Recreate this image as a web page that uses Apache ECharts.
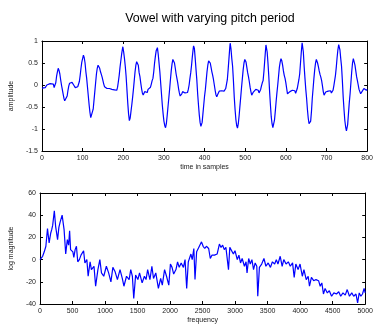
<!DOCTYPE html>
<html>
<head>
<meta charset="utf-8">
<script src="https://cdn.jsdelivr.net/npm/echarts@6/dist/echarts.min.js"></script>
<style>
  html, body { margin: 0; padding: 0; background: #fff; }
  #chart { width: 376px; height: 327px; }
</style>
</head>
<body>
<div id="chart"></div>
<script>
// Time-domain vowel waveform: sample index and amplitude
const sampleIdx = [0,4,8,12,16,20,24,28,30,32,34,36,38,40,42,44,46,48,50,52,54,56,58,60,62,64,66,68,70,72,74,76,78,80,82,84,86,88,90,92,94,96,98,100,102,104,106,108,110,112,114,116,118,120,122,124,126,128,130,132,134,136,138,140,142,144,146,148,150,152,154,156,158,160,163,166,169,172,175,178,181,184,186,188,190,192,194,196,198,199,201,203,205,207,209,211,213,215,217,219,221,223,225,227,229,231,233,235,237,239,241,243,245,247,249,251,253,255,257,259,261,263,265,267,269,271,273,275,277,279,281,283,284,286,288,290,292,294,296,298,300,302,304,306,308,310,312,314,316,318,320,322,324,326,328,330,332,334,336,338,340,342,344,346,348,350,352,354,356,358,360,362,364,366,368,370,372,373,375,377,379,381,383,385,387,389,391,392,394,396,398,400,402,404,406,408,410,412,414,416,418,420,422,424,426,428,430,432,434,436,438,440,442,444,446,448,450,452,454,456,458,460,462,463,465,467,469,471,473,475,477,479,481,483,485,487,489,491,493,495,497,499,500,502,504,506,508,510,512,514,516,518,520,522,524,526,528,530,532,534,536,538,540,542,544,546,548,550,551,552,554,556,558,560,562,564,566,568,570,572,574,576,578,580,582,584,586,588,590,592,594,596,598,600,602,604,606,608,610,612,614,616,618,620,622,624,626,628,630,632,634,636,638,640,641,643,645,647,649,651,653,655,657,659,661,663,665,667,669,671,673,675,676,678,680,682,684,686,688,690,692,694,696,698,700,702,704,706,708,710,712,714,716,718,720,722,724,726,728,730,731,733,735,737,739,741,743,745,747,749,750,752,754,756,758,760,762,764,766,768,770,772,774,776,778,780,782,784,786,788,790,792,794,796,798,800];
const amplitude = [-0.07,-0.05,-0.06,0.0,0.02,0.03,0.01,0.02,-0.06,0.0,0.05,0.2,0.3,0.38,0.33,0.25,0.12,0.0,-0.1,-0.2,-0.3,-0.36,-0.33,-0.37,-0.25,-0.12,-0.02,0.04,0.07,0.08,0.06,0.03,0.0,-0.04,-0.06,-0.05,-0.07,-0.04,0.0,0.08,0.22,0.38,0.52,0.6,0.68,0.62,0.5,0.3,0.15,-0.05,-0.25,-0.45,-0.62,-0.74,-0.78,-0.72,-0.55,-0.35,-0.15,0.05,0.25,0.38,0.45,0.43,0.38,0.3,0.24,0.18,0.1,0.02,-0.04,-0.08,-0.06,-0.08,-0.1,-0.08,-0.11,-0.1,-0.12,-0.11,-0.15,-0.12,-0.05,0.08,0.22,0.4,0.55,0.7,0.82,0.87,0.75,0.6,0.42,0.2,-0.1,-0.4,-0.65,-0.81,-0.75,-0.6,-0.45,-0.28,-0.1,0.1,0.3,0.45,0.53,0.55,0.45,0.28,0.19,0.05,-0.08,-0.18,-0.23,-0.2,-0.15,-0.18,-0.12,-0.17,-0.1,-0.14,-0.12,-0.05,0.02,0.1,0.15,0.3,0.5,0.65,0.78,0.82,0.85,0.7,0.5,0.3,0.05,-0.2,-0.45,-0.65,-0.82,-0.92,-0.97,-0.88,-0.7,-0.5,-0.3,-0.1,0.12,0.32,0.48,0.58,0.6,0.5,0.38,0.25,0.15,0.05,-0.08,-0.18,-0.25,-0.27,-0.2,-0.15,-0.12,-0.14,-0.18,-0.15,-0.2,-0.17,-0.1,0.0,0.15,0.28,0.45,0.65,0.82,0.89,0.83,0.6,0.35,0.11,-0.2,-0.45,-0.68,-0.85,-0.94,-0.95,-0.85,-0.65,-0.45,-0.25,-0.1,0.1,0.3,0.45,0.55,0.58,0.5,0.4,0.3,0.22,0.12,0.0,-0.12,-0.22,-0.27,-0.22,-0.18,-0.14,-0.12,-0.1,-0.13,-0.11,-0.15,-0.14,-0.16,-0.08,0.02,0.12,0.35,0.6,0.85,0.95,0.82,0.6,0.42,0.1,-0.27,-0.55,-0.78,-0.92,-0.98,-0.88,-0.7,-0.48,-0.27,-0.05,0.15,0.35,0.5,0.58,0.6,0.52,0.4,0.28,0.19,0.08,-0.05,-0.15,-0.23,-0.2,-0.16,-0.12,-0.15,-0.1,-0.12,-0.14,-0.12,-0.18,-0.19,-0.1,-0.02,0.05,0.1,0.3,0.55,0.8,0.91,0.93,0.75,0.5,0.2,-0.15,-0.45,-0.72,-0.88,-0.97,-0.95,-0.8,-0.6,-0.38,-0.18,0.0,0.2,0.4,0.52,0.6,0.55,0.45,0.32,0.22,0.15,0.05,-0.08,-0.2,-0.23,-0.18,-0.15,-0.12,-0.14,-0.12,-0.14,-0.15,-0.13,-0.19,-0.17,-0.08,0.02,0.12,0.25,0.5,0.75,0.96,0.98,0.75,0.42,0.15,-0.1,-0.3,-0.55,-0.75,-0.88,-0.92,-0.82,-0.6,-0.3,-0.08,0.15,0.35,0.5,0.58,0.6,0.5,0.42,0.32,0.24,0.18,0.1,-0.02,-0.15,-0.23,-0.2,-0.16,-0.15,-0.12,-0.14,-0.11,-0.15,-0.13,-0.18,-0.19,-0.12,-0.02,0.1,0.22,0.4,0.62,0.8,0.92,0.95,0.8,0.6,0.42,0.1,-0.27,-0.55,-0.8,-0.95,-1.04,-1.05,-0.9,-0.65,-0.4,-0.2,0.05,0.3,0.5,0.6,0.58,0.45,0.32,0.19,0.1,0.0,-0.1,-0.15,-0.2,-0.18,-0.14,-0.12,-0.08,-0.1,-0.06,-0.12,-0.1];

// Log-magnitude spectrum: frequency (Hz) and level (dB)
const freqHz = [0,40,65,90,115,140,165,180,195,220,240,270,290,310,340,370,395,420,440,455,470,505,520,540,560,580,605,630,670,690,720,740,770,790,830,855,890,920,945,980,1020,1055,1090,1120,1155,1190,1230,1265,1290,1330,1370,1395,1420,1441,1470,1505,1530,1570,1605,1630,1655,1690,1720,1745,1780,1820,1855,1880,1915,1945,1980,2005,2030,2055,2090,2115,2140,2170,2205,2230,2255,2280,2320,2340,2365,2383,2408,2433,2458,2483,2508,2533,2558,2593,2618,2643,2683,2723,2758,2783,2808,2833,2858,2883,2898,2918,2948,2973,2998,3033,3058,3083,3108,3143,3168,3183,3208,3233,3258,3283,3308,3333,3348,3373,3408,3443,3473,3508,3543,3573,3608,3633,3658,3693,3723,3748,3783,3818,3848,3883,3908,3933,3968,3998,4033,4058,4093,4123,4143,4173,4208,4243,4283,4308,4333,4358,4383,4418,4448,4483,4518,4558,4593,4623,4658,4693,4723,4758,4793,4823,4858,4883,4908,4933,4958,4983,5000];
const logMag = [0,3,7,12,28,15,24,27,31,44,30,18,29,34,40,27,5,18,13,26,9,7,2,9,12,-2,0,4,8,-3,0,-15,-2,-9,-6,-24,-9,0,-12,-15,-6,-12,-20,-7,-11,-18,-9,-17,-24,-15,-18,-9,-15,-35,-14,-18,-12,-21,-15,-18,-9,-18,-6,-17,-12,-26,-17,-23,-9,-15,-23,-4,-7,-13,-9,-2,-7,-3,-7,0,-26,-2,5,0,10,-18,7,10,9,16,12,10,12,10,1,4,4,5,14,11,13,9,11,10,-9,11,10,5,8,0,4,-3,1,-6,-2,-12,1,-4,0,-9,-3,-6,-33,-7,-4,1,-6,-3,-7,-2,-4,0,-4,3,-6,0,-4,-2,-6,-3,-16,-4,-9,-4,-15,-9,-18,-15,-24,-16,-19,-18,-19,-24,-21,-31,-26,-30,-28,-33,-30,-31,-29,-33,-30,-32,-27,-33,-30,-33,-31,-39,-30,-33,-31,-26,-30];

// Axis tick values
const timeTicks = [0, 100, 200, 300, 400, 500, 600, 700, 800];
const ampTicks = [-1.5, -1, -0.5, 0, 0.5, 1];
const freqTicks = [0, 500, 1000, 1500, 2000, 2500, 3000, 3500, 4000, 4500, 5000];
const magTicks = [-40, -20, 0, 20, 40, 60];

const FONT = 'Liberation Sans, Arial, sans-serif';
const BLUE = '#0000ff';

function pairs(xs, ys) { return xs.map((x, i) => [x, ys[i]]); }

const chart = echarts.init(document.getElementById('chart'), null, { renderer: 'canvas' });

const tickLabel = {
  fontFamily: FONT, fontSize: 7, color: '#222', margin: 4,
  formatter: v => String(v)
};
const lineStyle = { color: '#000', width: 1 };

function axisBase(gridIndex, ticks) {
  return {
    type: 'value', gridIndex, min: ticks[0], max: ticks[ticks.length - 1],
    interval: ticks[1] - ticks[0],
    axisLine: { show: true, onZero: false, lineStyle },
    axisTick: { show: true, inside: true, length: 3, lineStyle },
    splitLine: { show: false }
  };
}
function mainAxis(gridIndex, ticks, name, gap) {
  return Object.assign(axisBase(gridIndex, ticks), {
    name, nameLocation: 'middle', nameGap: gap,
    nameTextStyle: { fontFamily: FONT, fontSize: 7, color: '#222' },
    axisLabel: tickLabel
  });
}
function mirrorAxis(gridIndex, ticks, position) {
  return Object.assign(axisBase(gridIndex, ticks), {
    position, axisLabel: { show: false }
  });
}

chart.setOption({
  animation: false,
  backgroundColor: '#fff',
  title: {
    text: 'Vowel with varying pitch period',
    left: 205, top: 8, textAlign: 'center',
    textStyle: { fontFamily: FONT, fontSize: 12.4, fontWeight: 'normal', color: '#000' }
  },
  grid: [
    { left: 38, top: 41, width: 333, height: 110 },
    { left: 38, top: 193, width: 333, height: 111 }
  ],
  xAxis: [
    mainAxis(0, timeTicks, 'time in samples', 13),
    mirrorAxis(0, timeTicks, 'top'),
    mainAxis(1, freqTicks, 'frequency', 13),
    mirrorAxis(1, freqTicks, 'top')
  ],
  yAxis: [
    mainAxis(0, ampTicks, 'amplitude', 20),
    mirrorAxis(0, ampTicks, 'right'),
    mainAxis(1, magTicks, 'log magnitude', 20),
    mirrorAxis(1, magTicks, 'right')
  ],
  series: [
    {
      type: 'line', xAxisIndex: 0, yAxisIndex: 0,
      data: pairs(sampleIdx, amplitude),
      showSymbol: false, smooth: false,
      lineStyle: { color: BLUE, width: 1.2 }
    },
    {
      type: 'line', xAxisIndex: 2, yAxisIndex: 2,
      data: pairs(freqHz, logMag),
      showSymbol: false, smooth: false,
      lineStyle: { color: BLUE, width: 1.2 }
    }
  ]
});
</script>
</body>
</html>
